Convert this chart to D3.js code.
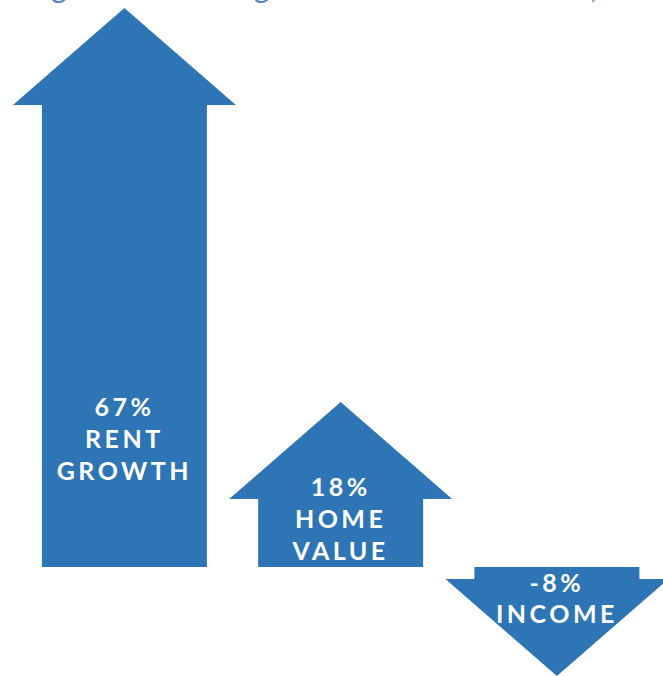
<!DOCTYPE html>
<html>
<head>
<meta charset="utf-8">
<script src="https://cdn.jsdelivr.net/npm/d3@7"></script>
<style>
  html, body { margin: 0; padding: 0; background: #ffffff; }
  svg { display: block; }
</style>
</head>
<body>
<svg id="chart" width="663" height="676"></svg>
<script>
// Percentage change by measure
const categories = ["RENT GROWTH", "HOME VALUE", "INCOME"];
const labelLines = [["RENT", "GROWTH"], ["HOME", "VALUE"], ["INCOME"]];
const values = [67, 18, -8];
const valueLabels = ["67%", "18%", "-8%"];

const W = 663, H = 676;
const baseY = 567;          // zero line the arrows grow from
const headH = 97;           // arrow head height
const headHalf = 111.5;     // arrow head half width
const shaftHalf = 82.5;     // shaft half width
const blue = "#2e75b6";

const svg = d3.select("#chart");

// Caption line, mostly above the top edge
svg.append("text")
  .attr("x", -42)
  .attr("y", -2)
  .attr("font-family", "Lato, sans-serif")
  .attr("font-size", 30)
  .attr("fill", "#4f86c6")
  .text("Housing costs are rising faster than local income,");

const x = d3.scalePoint()
  .domain(categories)
  .range([124.4, 556.9]);

// Arrow tip position for each value (pictorial, not proportional)
const stops = values.concat([0]).sort(d3.ascending);
const y = d3.scaleLinear()
  .domain(stops)
  .range([H, baseY, 402, 8]);

function arrowPath(cx, tip, up) {
  const p = d3.path();
  if (up) {
    const hb = tip + headH;
    p.moveTo(cx, tip);
    p.lineTo(cx + headHalf, hb);
    p.lineTo(cx + shaftHalf, hb);
    p.lineTo(cx + shaftHalf, baseY);
    p.lineTo(cx - shaftHalf, baseY);
    p.lineTo(cx - shaftHalf, hb);
    p.lineTo(cx - headHalf, hb);
  } else {
    const hb = tip - headH;
    p.moveTo(cx - shaftHalf, baseY);
    p.lineTo(cx + shaftHalf, baseY);
    p.lineTo(cx + shaftHalf, hb);
    p.lineTo(cx + headHalf, hb);
    p.lineTo(cx, tip);
    p.lineTo(cx - headHalf, hb);
    p.lineTo(cx - shaftHalf, hb);
  }
  p.closePath();
  return p.toString();
}

const data = categories.map((c, i) => ({
  cat: c, value: values[i], lines: [valueLabels[i]].concat(labelLines[i])
}));

const g = svg.selectAll("g.arrow")
  .data(data)
  .join("g")
  .attr("class", "arrow");

g.append("path")
  .attr("d", d => arrowPath(x(d.cat), y(d.value), d.value >= 0))
  .attr("fill", blue);

const lineGap = 32;
g.each(function(d) {
  const cx = x(d.cat);
  const tip = y(d.value);
  const first = d.value >= 0 ? Math.max(tip + 94, baseY - 151) : baseY + 25;
  d3.select(this).selectAll("text")
    .data(d.lines)
    .join("text")
    .attr("x", cx)
    .attr("y", (t, k) => first + k * lineGap - (d.value >= 0 ? 0 : k))
    .attr("text-anchor", "middle")
    .attr("font-family", "Lato, sans-serif")
    .attr("font-weight", 700)
    .attr("font-size", 25)
    .attr("letter-spacing", 3.5)
    .attr("fill", "#ffffff")
    .text(t => t);
});
</script>
</body>
</html>
